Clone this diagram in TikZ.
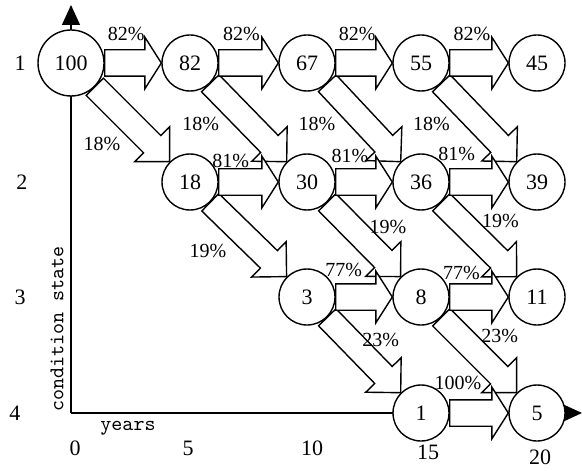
\documentclass[tikz,border=0pt]{standalone}
\usepackage{fontspec}
\setmainfont{Liberation Serif}
\usetikzlibrary{shapes.arrows,calc,arrows.meta}
\tikzset{
	stage/.style={
		circle,
		draw=black,
		fill=white,
		line width=0.7pt,
		minimum size=28pt,
		inner sep=0pt,
		font=\fontsize{11}{13}\selectfont,
	},
	fat/.style={
		single arrow,
		draw=black,
		fill=white,
		line width=0.7pt,
		inner xsep=0pt,
		outer sep=0pt,
	},
	flat/.style={fat, inner ysep=6.25pt, single arrow head extend=6.25pt, single arrow tip angle=115},
	slant/.style={fat, inner ysep=5.75pt, single arrow head extend=6.25pt, single arrow tip angle=90},
	% a fat arrow laid from the start point to the target point
	fat to/.style={to path={
		let \p1=($(\tikztotarget)-(\tikztostart)$) in
		node[#1, anchor=tail, rotate={atan2(\y1,\x1)}, minimum height={veclen(\x1,\y1)}] at (\tikztostart) {}
		(\tikztostart) -- (\tikztotarget) \tikztonodes
	}},
	flow/.style={fat to=flat},
	drop/.style={fat to=slant},
	pct/.style={font=\fontsize{10}{12}\selectfont, inner sep=1pt},
	tick/.style={font=\fontsize{11}{13}\selectfont, inner sep=0pt},
	axislabel/.style={font=\fontsize{10.5}{12}\ttfamily, inner sep=0pt},
}

\begin{document}
\begin{tikzpicture}[x=0.5pt,y=-0.5pt,>={Triangle[length=10pt,width=9pt]}]
	\useasboundingbox (0,0) rectangle (582,470);

	% axes
	\coordinate (origin) at (71,413);
	\coordinate (ytop) at (71,5);
	\coordinate (xend) at (582,413);
	\draw[->, line width=0.7pt] (origin) -- (ytop);
	\draw[->, line width=0.7pt] (origin) -- (xend);

	\foreach \r/\x/\y in {1/20/63, 2/22/182, 3/20/297, 4/15/413}
		\node[tick] (row\r) at (\x,\y) {\r};
	\foreach \t/\x/\y in {0/75/448, 5/188/448, 10/312/448, 15/428/452, 20/540/457}
		\node[tick] (col\t) at (\x,\y) {\t};
	\node[axislabel] (years) at (128,428) {years};
	\node[axislabel, rotate=90] (cstate) at (57,329) {condition state};

	% states
	\node [stage, minimum size=33pt] (a0) at (71,63) {100};
	\node [stage] (a5) at (190,63) {82};
	\node [stage] (a10) at (307,63) {67};
	\node [stage] (a15) at (421,63) {55};
	\node [stage] (a20) at (537,63) {45};
	\node [stage] (b5) at (190,182) {18};
	\node [stage] (b10) at (307,182) {30};
	\node [stage] (b15) at (421,182) {36};
	\node [stage] (b20) at (537,182) {39};
	\node [stage] (c10) at (307,297) {3};
	\node [stage] (c15) at (421,297) {8};
	\node [stage] (c20) at (537,297) {11};
	\node [stage] (d15) at (421,413) {1};
	\node [stage] (d20) at (537,413) {5};

	% going down one state
	\path (a0.south east) to[drop] node[pct, pos=0.43, xshift=-12.5pt, yshift=-12.5pt] {18\%} (b5.north west);
	\path (a5.south east) to[drop] node[pct, pos=0.2, xshift=-12.5pt, yshift=-12.5pt] {18\%} (b10.north west);
	\path (a10.south east) to[drop] node[pct, pos=0.2, xshift=-12.5pt, yshift=-12.5pt] {18\%} (b15.north west);
	\path (a15.south east) to[drop] node[pct, pos=0.2, xshift=-12.5pt, yshift=-12.5pt] {18\%} (b20.north west);
	\path (b5.south east) to[drop] node[pct, pos=0.31, xshift=-13pt, yshift=-13pt] {19\%} (c10.north west);
	\path (b10.south east) to[drop] node[pct, pos=0.58, xshift=9pt, yshift=9pt] {19\%} (c15.north west);
	\path (b15.south east) to[drop] node[pct, pos=0.52, xshift=10pt, yshift=10pt] {19\%} (c20.north west);
	\path (c10.south east) to[drop] node[pct, pos=0.51, xshift=8pt, yshift=8pt] {23\%} (d15.north west);
	\path (c15.south east) to[drop] node[pct, pos=0.51, xshift=10pt, yshift=10pt] {23\%} (d20.north west);

	% staying in the same state
	\path (a0.east) to[flow] node[pct, pos=0.38, above=10pt] {82\%} (a5.west);
	\path (a5.east) to[flow] node[pct, pos=0.38, above=10pt] {82\%} (a10.west);
	\path (a10.east) to[flow] node[pct, pos=0.38, above=10pt] {82\%} (a15.west);
	\path (a15.east) to[flow] node[pct, pos=0.38, above=10pt] {82\%} (a20.west);
	\path (b5.east) to[flow] node[pct, pos=0.2, above=6pt] {81\%} (b10.west);
	\path (b10.east) to[flow] node[pct, pos=0.25, above=8.5pt] {81\%} (b15.west);
	\path (b15.east) to[flow] node[pct, pos=0.12, above=9.5pt] {81\%} (b20.west);
	\path (c10.east) to[flow] node[pct, pos=0.14, above=9pt] {77\%} (c15.west);
	\path (c15.east) to[flow] node[pct, pos=0.2, above=7.5pt] {77\%} (c20.west);
	\path (d15.east) to[flow] node[pct, pos=0.14, above=10.5pt] {100\%} (d20.west);
\end{tikzpicture}
\end{document}
